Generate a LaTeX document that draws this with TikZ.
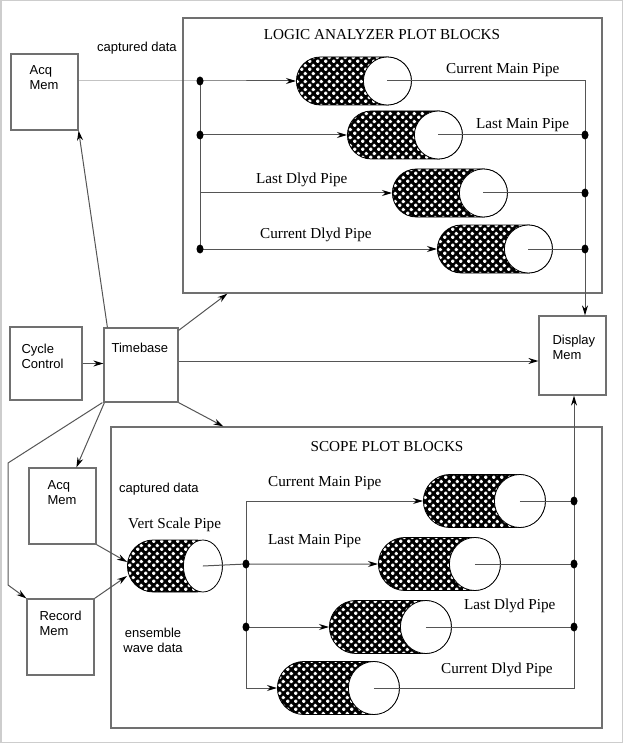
\documentclass[tikz,border=0pt]{standalone}
\usepackage{fontspec}
\setmainfont{Liberation Serif}
\newfontfamily\boxfont{Liberation Sans}
\usepackage{tikz}
\usetikzlibrary{positioning,arrows.meta,shapes.geometric,shapes.misc,patterns,calc}

\definecolor{boxgray}{RGB}{112,112,112}
\definecolor{wiregray}{RGB}{85,85,85}
\definecolor{framegray}{RGB}{205,205,205}

% white plus signs, staggered
\pgfdeclarepatternformonly{plusgrid}{\pgfqpoint{0pt}{0pt}}{\pgfqpoint{7.5pt}{8pt}}{\pgfqpoint{7.5pt}{8pt}}{%
  \pgfpathrectangle{\pgfqpoint{0.075pt}{1.1pt}}{\pgfqpoint{3.6pt}{1.8pt}}
  \pgfpathrectangle{\pgfqpoint{0.975pt}{0.2pt}}{\pgfqpoint{1.8pt}{3.6pt}}
  \pgfpathrectangle{\pgfqpoint{3.825pt}{5.1pt}}{\pgfqpoint{3.6pt}{1.8pt}}
  \pgfpathrectangle{\pgfqpoint{4.725pt}{4.2pt}}{\pgfqpoint{1.8pt}{3.6pt}}
  \pgfusepath{fill}}

\tikzset{
  membox/.style={draw=boxgray, line width=1.2pt, inner sep=0pt, minimum width=67pt, minimum height=76pt},
  memtext/.style={font=\boxfont\fontsize{13}{15}\selectfont, align=left, inner sep=0pt, anchor=north west},
  blockbox/.style={draw=boxgray, line width=1.2pt, inner sep=0pt},
  blocktitle/.style={font=\fontsize{15.2}{17}\selectfont, inner sep=0pt},
  pipe/.style={rounded rectangle, draw=black, line width=0.8pt, inner sep=0pt,
    minimum width=115pt, minimum height=48pt, anchor=west,
    preaction={fill=black}, pattern=plusgrid, pattern color=white},
  pipeend/.style={ellipse, draw=black, fill=white, line width=0.8pt, inner sep=0pt,
    minimum width=48pt, minimum height=48pt, anchor=east},
  joint/.style={ellipse, fill=black, inner sep=0pt, minimum width=7pt, minimum height=9pt},
  wire/.style={draw=wiregray, line width=1pt},
  flow/.style={wire, -{Stealth[length=10pt, width=6pt, color=black]}},
  pipelabel/.style={font=\fontsize{15.2}{17}\selectfont, inner sep=0pt, anchor=west},
  datalabel/.style={font=\boxfont\fontsize{13}{15}\selectfont, inner sep=0pt, anchor=west}
}

\begin{document}
\begin{tikzpicture}[x=1pt, y=-1pt]
\useasboundingbox (0,0) rectangle (623,743);
\draw[framegray, line width=1.5pt] (0.75,0.75) rectangle (622.25,742.25);

% plot block frames
\node[blockbox, minimum width=419pt, minimum height=275pt] (labox) at (392.5,155.5) {};
\node[blocktitle] (latitle) at (382,35) {LOGIC ANALYZER PLOT BLOCKS};
\node[blockbox, minimum width=491pt, minimum height=301pt] (scbox) at (356.5,577.5) {};
\node[blocktitle] (sctitle) at (387,447) {SCOPE PLOT BLOCKS};

% memories and control
\node[membox, label={[memtext, xshift=19pt, yshift=-12pt]north west:{Acq\\Mem}}] (acqa) at (44.5,92) {};
\node[membox, minimum width=72pt, minimum height=73pt, label={[memtext, xshift=12pt, yshift=-17pt]north west:{Cycle\\Control}}] (cyc) at (46,363.5) {};
\node[membox, minimum width=74pt, minimum height=74pt, label={[memtext, xshift=8pt, yshift=-15pt]north west:{Timebase}}] (tb) at (141,365) {};
\node[membox, minimum height=79pt, label={[memtext, xshift=14pt, yshift=-19pt]north west:{Display\\Mem}}] (disp) at (572.5,355.5) {};
\node[membox, label={[memtext, xshift=19pt, yshift=-13pt]north west:{Acq\\Mem}}] (acqb) at (62.5,506) {};
\node[membox, label={[memtext, xshift=13pt, yshift=-12pt]north west:{Record\\Mem}}] (rec) at (60.5,637) {};

% free labels
\node[datalabel] (capa) at (97,48) {captured data};
\node[datalabel] (capb) at (119,489) {captured data};
\node[datalabel, anchor=center, align=center] (ens) at (153,640) {ensemble\\wave data};
\node[pipelabel] (vslab) at (128,525) {Vert Scale Pipe};
\node[pipelabel] (la1lab) at (446,70) {Current Main Pipe};
\node[pipelabel] (la2lab) at (476,125) {Last Main Pipe};
\node[pipelabel] (la3lab) at (256,180) {Last Dlyd Pipe};
\node[pipelabel] (la4lab) at (260,235) {Current Dlyd Pipe};
\node[pipelabel] (s1lab) at (268,483) {Current Main Pipe};
\node[pipelabel] (s2lab) at (268,541) {Last Main Pipe};
\node[pipelabel] (s3lab) at (464,606) {Last Dlyd Pipe};
\node[pipelabel] (s4lab) at (441,670) {Current Dlyd Pipe};

% taps and corners
\coordinate (la3b) at (200,193);
\coordinate (laturn) at (585,81);
\coordinate (s1b) at (246,501);
\coordinate (s4b) at (246,688);
\coordinate (s4o) at (574,688);
\coordinate (rk1) at (8,463);
\coordinate (rk2) at (8,585);

% pipes
\node[pipe] (la1) at (296,81) {};
\node[pipeend] (la1e) at (la1.east) {};
\node[pipe] (la2) at (347,135) {};
\node[pipeend] (la2e) at (la2.east) {};
\node[pipe] (la3) at (392,193) {};
\node[pipeend] (la3e) at (la3.east) {};
\node[pipe] (la4) at (437,249) {};
\node[pipeend] (la4e) at (la4.east) {};

\node[pipe, minimum width=95pt, minimum height=52pt] (vs) at (127,566) {};
\node[pipeend, minimum width=39pt, minimum height=52pt] (vse) at (vs.east) {};
\node[pipe, minimum width=122pt, minimum height=53pt] (s1) at (423,501) {};
\node[pipeend, minimum width=51pt, minimum height=53pt] (s1e) at (s1.east) {};
\node[pipe, minimum width=122pt, minimum height=53pt] (s2) at (378,564) {};
\node[pipeend, minimum width=51pt, minimum height=53pt] (s2e) at (s2.east) {};
\node[pipe, minimum width=122pt, minimum height=53pt] (s3) at (329,627) {};
\node[pipeend, minimum width=51pt, minimum height=53pt] (s3e) at (s3.east) {};
\node[pipe, minimum width=122pt, minimum height=53pt] (s4) at (277,688) {};
\node[pipeend, minimum width=51pt, minimum height=53pt] (s4e) at (s4.east) {};

% junction positions
\coordinate (la1d) at (200,81);
\coordinate (la2d) at (200,135);
\coordinate (la4d) at (200,249);
\coordinate (la2o) at (585,135);
\coordinate (la3o) at (585,193);
\coordinate (la4o) at (585,249);
\coordinate (vsd) at (246,564);
\coordinate (s3d) at (246,627);
\coordinate (s1o) at (574,501);
\coordinate (s2o) at (574,564);
\coordinate (s3o) at (574,627);

% logic analyzer wiring
\draw[flow] (acqa.east |- la1d) -- (la1d) -- (la1.west);
\draw[wire] (la1d) -- (la4d);
\draw[flow] (la2d) -- (la2.west);
\draw[flow] (la3b) -- (la3.west);
\draw[flow] (la4d) -- (la4.west);
\draw[flow] (la1e.center) -- (laturn) -- (laturn |- disp.north);
\draw[wire] (la2e.center) -- (la2o);
\draw[wire] (la3e.center) -- (la3o);
\draw[wire] (la4e.center) -- (la4o);

% scope wiring
\draw[flow] (acqb.south east) -- ([yshift=4pt]vs.west);
\draw[flow] (rec.north east) -- ([yshift=-10pt]vs.west);
\draw[flow] (vse.center) -- (vsd) -- (s2.west);
\draw[wire] (s1b) -- (s4b);
\draw[flow] (s1b) -- (s1.west);
\draw[flow] (s3d) -- (s3.west);
\draw[flow] (s4b) -- (s4.west);
\draw[wire] (s1e.center) -- (s1o);
\draw[wire] (s2e.center) -- (s2o);
\draw[wire] (s3e.center) -- (s3o);
\draw[flow] (s4e.center) -- (s4o) -- (s4o |- disp.south);

% timebase fan-out
\draw[flow] (cyc.east) -- (cyc.east -| tb.west);
\draw[flow] ([xshift=4pt]tb.north west) -- (acqa.south east);
\draw[flow] ([yshift=-3pt]tb.north east) -- ([xshift=45pt]labox.south west);
\draw[flow] ([yshift=4pt]tb.east) -- ([yshift=4pt]tb.east -| disp.west);
\draw[flow] (tb.south east) -- ([xshift=113pt]scbox.north west);
\draw[flow] ([xshift=1pt]tb.south west) -- ([xshift=48pt]acqb.north west);
\draw[flow] ([xshift=-1pt]tb.south west) -- (rk1) -- (rk2) -- (rec.north west);

% dots on top
\foreach \j in {la1d,la2d,la4d,la2o,la3o,la4o,vsd,s3d,s1o,s2o,s3o}
  \node[joint] at (\j) {};
\end{tikzpicture}
\end{document}
